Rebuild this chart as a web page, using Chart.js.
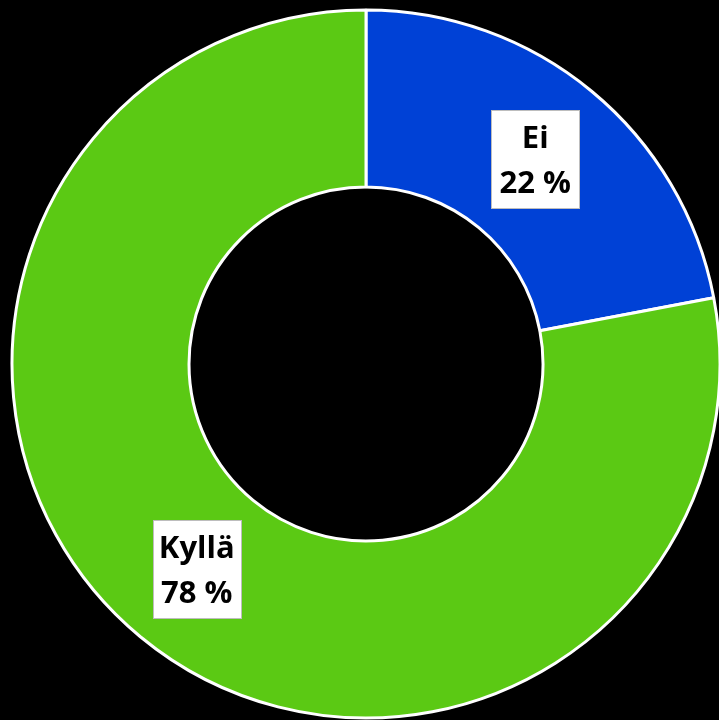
<!DOCTYPE html>
<html>
<head>
<meta charset="utf-8">
<script src="https://cdn.jsdelivr.net/npm/chart.js@4"></script>
<style>
  html, body { margin: 0; padding: 0; background: #000; overflow: hidden; }
  #wrap { width: 740px; height: 720px; }
</style>
</head>
<body>
<div id="wrap"><canvas id="chart" width="740" height="720"></canvas></div>
<script>
// Chart data
const labels = ['Ei', 'Kyllä'];
const values = [22, 78];
const colors = ['#0041d6', '#5bc914'];

// Draws the white label boxes on each slice
const boxLabels = {
    id: 'boxLabels',
    afterDatasetsDraw(chart) {
        const ctx = chart.ctx;
        const arcs = chart.getDatasetMeta(0).data;
        ctx.save();
        ctx.font = 'bold 31px "Open Sans"';
        ctx.textAlign = 'center';
        ctx.textBaseline = 'alphabetic';
        arcs.forEach((arc, i) => {
            const pos = arc.tooltipPosition();
            const w = 88, h = 98;
            const x = Math.round(pos.x - w / 2) + 0.5;
            const y = Math.round(pos.y - h / 2) + 0.5;
            ctx.fillStyle = '#ffffff';
            ctx.fillRect(x, y, w, h);
            ctx.strokeStyle = '#bdbdbd';
            ctx.lineWidth = 1;
            ctx.strokeRect(x, y, w, h);
            ctx.fillStyle = '#000000';
            ctx.fillText(labels[i], pos.x, pos.y - 11);
            ctx.fillText(values[i] + ' %', pos.x, pos.y + 34);
        });
        ctx.restore();
    }
};

new Chart(document.getElementById('chart').getContext('2d'), {
    type: 'doughnut',
    data: {
        labels: labels,
        datasets: [{
            data: values,
            backgroundColor: colors,
            borderColor: '#ffffff',
            borderWidth: 3
        }]
    },
    options: {
        responsive: false,
        animation: false,
        cutout: '50%',
        radius: 354,
        layout: { padding: { left: 12, top: 10, right: 20, bottom: 2 } },
        plugins: {
            legend: { display: false },
            tooltip: { enabled: false }
        }
    },
    plugins: [boxLabels]
});
</script>
</body>
</html>
